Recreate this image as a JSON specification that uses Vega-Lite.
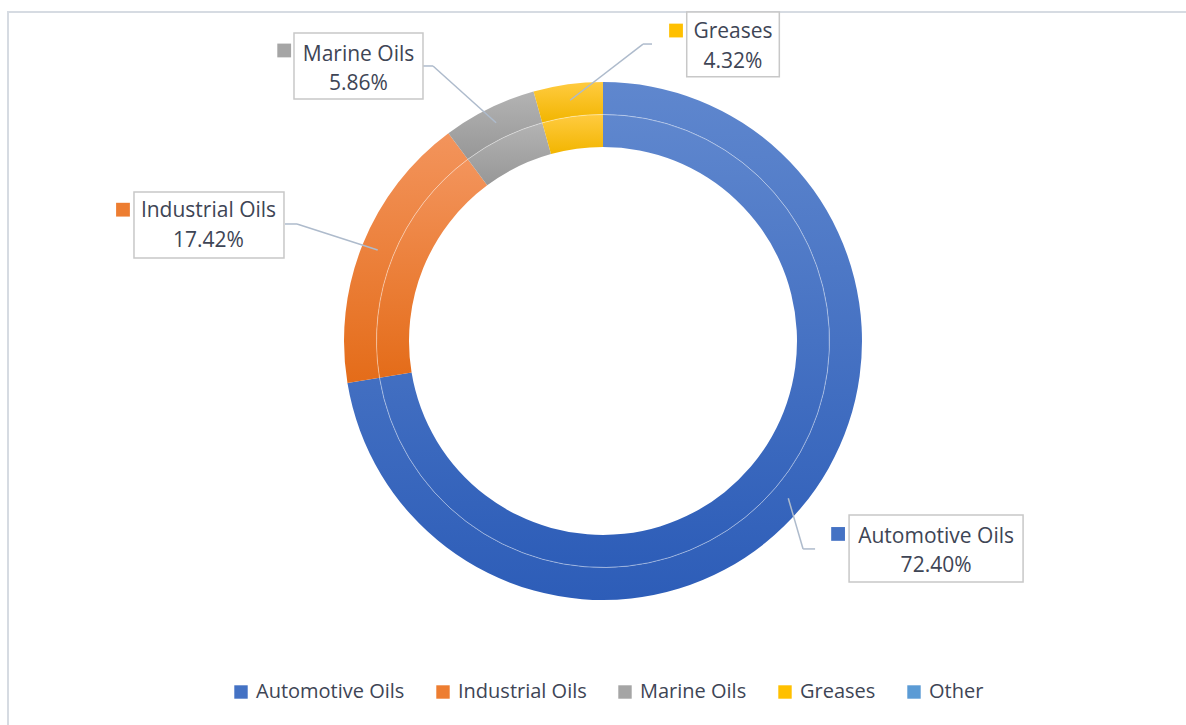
{
  "$schema": "https://vega.github.io/schema/vega-lite/v6.json",
  "width": 1178,
  "height": 713,
  "autosize": {"type": "none"},
  "padding": {"left": 8, "top": 12, "right": 0, "bottom": 0},
  "background": "#ffffff",
  "config": {
    "font": "Open Sans",
    "view": {"stroke": "#d6dbe2", "strokeWidth": 2, "strokeDash": [1178, 1891, 713]}
  },
  "data": {
    "values": [
      {"category": "Automotive Oils", "share": 72.40},
      {"category": "Industrial Oils", "share": 17.42},
      {"category": "Marine Oils", "share": 5.86},
      {"category": "Greases", "share": 4.32},
      {"category": "Other", "share": 0}
    ]
  },
  "transform": [
    {"window": [{"op": "sum", "field": "share", "as": "cumEnd"}, {"op": "row_number", "as": "rn"}]},
    {"calculate": "(datum.cumEnd - datum.share / 2) * 2 * PI / 100", "as": "midAngle"},
    {"calculate": "243 * sin(datum.midAngle)", "as": "ax"},
    {"calculate": "243 * cos(datum.midAngle)", "as": "ay"},
    {"calculate": "datum.category + '\\n' + format(datum.share, '.2f') + '%'", "as": "labelText"}
  ],
  "layer": [
    {
      "mark": {"type": "arc", "radius": 259, "radius2": 226.5},
      "encoding": {
        "x": {"datum": 0, "type": "quantitative", "scale": {"domain": [-595, 583], "nice": false, "zero": false}, "axis": null},
        "y": {"datum": 0, "type": "quantitative", "scale": {"domain": [-384, 329], "nice": false, "zero": false}, "axis": null},
        "theta": {"field": "share", "type": "quantitative", "stack": true, "scale": {"domain": [0, 100]}},
        "order": {"field": "rn", "type": "quantitative"},
        "fill": {
          "condition": [
            {"test": "datum.category === 'Industrial Oils'", "value": {"gradient": "linear", "x1": 0, "y1": 0, "x2": 0, "y2": 1, "stops": [{"offset": 0, "color": "#F3945C"}, {"offset": 1, "color": "#E46C19"}]}},
            {"test": "datum.category === 'Marine Oils'", "value": {"gradient": "linear", "x1": 0, "y1": 0, "x2": 0, "y2": 1, "stops": [{"offset": 0, "color": "#B3B3B3"}, {"offset": 1, "color": "#979797"}]}},
            {"test": "datum.category === 'Greases'", "value": {"gradient": "linear", "x1": 0, "y1": 0, "x2": 0, "y2": 1, "stops": [{"offset": 0, "color": "#FFCB40"}, {"offset": 1, "color": "#F2B500"}]}},
            {"test": "datum.category === 'Other'", "value": "#5B9BD5"}
          ],
          "value": {"gradient": "linear", "x1": 0, "y1": 0, "x2": 0, "y2": 1, "stops": [{"offset": 0, "color": "#5F87CE"}, {"offset": 1, "color": "#2D5DB8"}]}
        }
      }
    },
    {
      "mark": {"type": "arc", "radius": 226.5, "radius2": 194},
      "encoding": {
        "x": {"datum": 0, "type": "quantitative", "scale": {"domain": [-595, 583], "nice": false, "zero": false}, "axis": null},
        "y": {"datum": 0, "type": "quantitative", "scale": {"domain": [-384, 329], "nice": false, "zero": false}, "axis": null},
        "theta": {"field": "share", "type": "quantitative", "stack": true, "scale": {"domain": [0, 100]}},
        "order": {"field": "rn", "type": "quantitative"},
        "fill": {
          "condition": [
            {"test": "datum.category === 'Industrial Oils'", "value": {"gradient": "linear", "x1": 0, "y1": 0, "x2": 0, "y2": 1, "stops": [{"offset": 0, "color": "#F3945C"}, {"offset": 1, "color": "#E46C19"}]}},
            {"test": "datum.category === 'Marine Oils'", "value": {"gradient": "linear", "x1": 0, "y1": 0, "x2": 0, "y2": 1, "stops": [{"offset": 0, "color": "#B3B3B3"}, {"offset": 1, "color": "#979797"}]}},
            {"test": "datum.category === 'Greases'", "value": {"gradient": "linear", "x1": 0, "y1": 0, "x2": 0, "y2": 1, "stops": [{"offset": 0, "color": "#FFCB40"}, {"offset": 1, "color": "#F2B500"}]}},
            {"test": "datum.category === 'Other'", "value": "#5B9BD5"}
          ],
          "value": {"gradient": "linear", "x1": 0, "y1": 0, "x2": 0, "y2": 1, "stops": [{"offset": 0, "color": "#5F87CE"}, {"offset": 1, "color": "#2D5DB8"}]}
        }
      }
    },
    {
      "mark": {"type": "arc", "radius": 226.5, "radius2": 226.5, "fillOpacity": 0, "stroke": "#ffffff", "strokeOpacity": 0.22, "strokeWidth": 1},
      "encoding": {
        "x": {"datum": 0, "type": "quantitative", "scale": {"domain": [-595, 583], "nice": false, "zero": false}, "axis": null},
        "y": {"datum": 0, "type": "quantitative", "scale": {"domain": [-384, 329], "nice": false, "zero": false}, "axis": null},
        "theta": {"field": "share", "type": "quantitative", "stack": true, "scale": {"domain": [0, 100]}},
        "order": {"field": "rn", "type": "quantitative"}
      }
    },
    {
      "transform": [{"filter": "datum.category === 'Greases'"}],
      "encoding": {
        "x": {"field": "ax", "type": "quantitative", "scale": {"domain": [-595, 583], "nice": false, "zero": false}, "axis": null},
        "y": {"field": "ay", "type": "quantitative", "scale": {"domain": [-384, 329], "nice": false, "zero": false}, "axis": null}
      },
      "layer": [
        {"mark": {"type": "rule", "stroke": "#aebbcc", "strokeWidth": 1.5, "x2Offset": 72.9, "y2Offset": -56.2}, "encoding": {"x2": {"field": "ax"}, "y2": {"field": "ay"}}},
        {"mark": {"type": "rule", "stroke": "#aebbcc", "strokeWidth": 1.5, "xOffset": 72.9, "x2Offset": 81.9, "yOffset": -56.2, "y2Offset": -56.2}, "encoding": {"x2": {"field": "ax"}, "y2": {"field": "ay"}}},
        {"mark": {"type": "point", "shape": "M-0.463,-0.3235H0.463V0.3235H-0.463Z", "size": 40000, "filled": true, "fill": "#ffffff", "stroke": "#c8c8c8", "strokeWidth": 1.5, "opacity": 1, "xOffset": 162.9, "yOffset": -55.9}},
        {"mark": {"type": "point", "shape": "square", "size": 190, "filled": true, "opacity": 1, "strokeWidth": 0, "xOffset": 105.9, "yOffset": -69.7},
         "encoding": {"color": {"field": "category", "type": "nominal", "scale": {"domain": ["Automotive Oils", "Industrial Oils", "Marine Oils", "Greases", "Other"], "range": ["#4472C4", "#ED7D31", "#A5A5A5", "#FFC000", "#5B9BD5"]},
           "legend": {"orient": "none", "legendX": 223, "legendY": 670, "direction": "horizontal", "title": null, "symbolType": "square", "symbolSize": 180, "symbolStrokeWidth": 0, "labelFont": "Open Sans", "labelFontSize": 20, "labelColor": "#3e4555", "labelOffset": 5, "columnPadding": 28, "padding": 0, "labelLimit": 0}}}},
        {"mark": {"type": "text", "align": "center", "baseline": "alphabetic", "lineBreak": "\n", "lineHeight": 29.5, "fontSize": 21, "font": "Open Sans", "fill": "#3e4555", "dx": 162.9, "dy": -62.2}, "encoding": {"text": {"field": "labelText"}}}
      ]
    },
    {
      "transform": [{"filter": "datum.category === 'Marine Oils'"}],
      "encoding": {
        "x": {"field": "ax", "type": "quantitative", "scale": {"domain": [-595, 583], "nice": false, "zero": false}, "axis": null},
        "y": {"field": "ay", "type": "quantitative", "scale": {"domain": [-384, 329], "nice": false, "zero": false}, "axis": null}
      },
      "layer": [
        {"mark": {"type": "rule", "stroke": "#aebbcc", "strokeWidth": 1.5, "x2Offset": -63.1, "y2Offset": -56.8}, "encoding": {"x2": {"field": "ax"}, "y2": {"field": "ay"}}},
        {"mark": {"type": "rule", "stroke": "#aebbcc", "strokeWidth": 1.5, "xOffset": -63.1, "x2Offset": -73.1, "yOffset": -56.8, "y2Offset": -56.8}, "encoding": {"x2": {"field": "ax"}, "y2": {"field": "ay"}}},
        {"mark": {"type": "point", "shape": "M-0.645,-0.33H0.645V0.33H-0.645Z", "size": 40000, "filled": true, "fill": "#ffffff", "stroke": "#c8c8c8", "strokeWidth": 1.5, "opacity": 1, "xOffset": -137.6, "yOffset": -56.8}},
        {"mark": {"type": "point", "shape": "square", "size": 190, "filled": true, "opacity": 1, "strokeWidth": 0, "xOffset": -211.9, "yOffset": -72.3},
         "encoding": {"color": {"field": "category", "type": "nominal", "scale": {"domain": ["Automotive Oils", "Industrial Oils", "Marine Oils", "Greases", "Other"], "range": ["#4472C4", "#ED7D31", "#A5A5A5", "#FFC000", "#5B9BD5"]},
           "legend": {"orient": "none", "legendX": 223, "legendY": 670, "direction": "horizontal", "title": null, "symbolType": "square", "symbolSize": 180, "symbolStrokeWidth": 0, "labelFont": "Open Sans", "labelFontSize": 20, "labelColor": "#3e4555", "labelOffset": 5, "columnPadding": 28, "padding": 0, "labelLimit": 0}}}},
        {"mark": {"type": "text", "align": "center", "baseline": "alphabetic", "lineBreak": "\n", "lineHeight": 29.5, "fontSize": 21, "font": "Open Sans", "fill": "#3e4555", "dx": -137.6, "dy": -62.1}, "encoding": {"text": {"field": "labelText"}}}
      ]
    },
    {
      "transform": [{"filter": "datum.category === 'Industrial Oils'"}],
      "encoding": {
        "x": {"field": "ax", "type": "quantitative", "scale": {"domain": [-595, 583], "nice": false, "zero": false}, "axis": null},
        "y": {"field": "ay", "type": "quantitative", "scale": {"domain": [-384, 329], "nice": false, "zero": false}, "axis": null}
      },
      "layer": [
        {"mark": {"type": "rule", "stroke": "#aebbcc", "strokeWidth": 1.5, "x2Offset": -80.7, "y2Offset": -26.0}, "encoding": {"x2": {"field": "ax"}, "y2": {"field": "ay"}}},
        {"mark": {"type": "rule", "stroke": "#aebbcc", "strokeWidth": 1.5, "xOffset": -80.7, "x2Offset": -92.7, "yOffset": -26.0, "y2Offset": -26.0}, "encoding": {"x2": {"field": "ax"}, "y2": {"field": "ay"}}},
        {"mark": {"type": "point", "shape": "M-0.75,-0.33H0.75V0.33H-0.75Z", "size": 40000, "filled": true, "fill": "#ffffff", "stroke": "#c8c8c8", "strokeWidth": 1.5, "opacity": 1, "xOffset": -168.7, "yOffset": -25.0}},
        {"mark": {"type": "point", "shape": "square", "size": 190, "filled": true, "opacity": 1, "strokeWidth": 0, "xOffset": -254.7, "yOffset": -40.3},
         "encoding": {"color": {"field": "category", "type": "nominal", "scale": {"domain": ["Automotive Oils", "Industrial Oils", "Marine Oils", "Greases", "Other"], "range": ["#4472C4", "#ED7D31", "#A5A5A5", "#FFC000", "#5B9BD5"]},
           "legend": {"orient": "none", "legendX": 223, "legendY": 670, "direction": "horizontal", "title": null, "symbolType": "square", "symbolSize": 180, "symbolStrokeWidth": 0, "labelFont": "Open Sans", "labelFontSize": 20, "labelColor": "#3e4555", "labelOffset": 5, "columnPadding": 28, "padding": 0, "labelLimit": 0}}}},
        {"mark": {"type": "text", "align": "center", "baseline": "alphabetic", "lineBreak": "\n", "lineHeight": 29.5, "fontSize": 21, "font": "Open Sans", "fill": "#3e4555", "dx": -169.2, "dy": -32.7}, "encoding": {"text": {"field": "labelText"}}}
      ]
    },
    {
      "transform": [{"filter": "datum.category === 'Automotive Oils'"}],
      "encoding": {
        "x": {"field": "ax", "type": "quantitative", "scale": {"domain": [-595, 583], "nice": false, "zero": false}, "axis": null},
        "y": {"field": "ay", "type": "quantitative", "scale": {"domain": [-384, 329], "nice": false, "zero": false}, "axis": null}
      },
      "layer": [
        {"mark": {"type": "rule", "stroke": "#aebbcc", "strokeWidth": 1.5, "x2Offset": 14.8, "y2Offset": 50.7}, "encoding": {"x2": {"field": "ax"}, "y2": {"field": "ay"}}},
        {"mark": {"type": "rule", "stroke": "#aebbcc", "strokeWidth": 1.5, "xOffset": 14.8, "x2Offset": 26.8, "yOffset": 50.7, "y2Offset": 50.7}, "encoding": {"x2": {"field": "ax"}, "y2": {"field": "ay"}}},
        {"mark": {"type": "point", "shape": "M-0.87,-0.335H0.87V0.335H-0.87Z", "size": 40000, "filled": true, "fill": "#ffffff", "stroke": "#c8c8c8", "strokeWidth": 1.5, "opacity": 1, "xOffset": 147.8, "yOffset": 50.2}},
        {"mark": {"type": "point", "shape": "square", "size": 190, "filled": true, "opacity": 1, "strokeWidth": 0, "xOffset": 49.8, "yOffset": 35.7},
         "encoding": {"color": {"field": "category", "type": "nominal", "scale": {"domain": ["Automotive Oils", "Industrial Oils", "Marine Oils", "Greases", "Other"], "range": ["#4472C4", "#ED7D31", "#A5A5A5", "#FFC000", "#5B9BD5"]},
           "legend": {"orient": "none", "legendX": 223, "legendY": 670, "direction": "horizontal", "title": null, "symbolType": "square", "symbolSize": 180, "symbolStrokeWidth": 0, "labelFont": "Open Sans", "labelFontSize": 20, "labelColor": "#3e4555", "labelOffset": 5, "columnPadding": 28, "padding": 0, "labelLimit": 0}}}},
        {"mark": {"type": "text", "align": "center", "baseline": "alphabetic", "lineBreak": "\n", "lineHeight": 29.5, "fontSize": 21, "font": "Open Sans", "fill": "#3e4555", "dx": 147.8, "dy": 44.7}, "encoding": {"text": {"field": "labelText"}}}
      ]
    }
  ]
}
